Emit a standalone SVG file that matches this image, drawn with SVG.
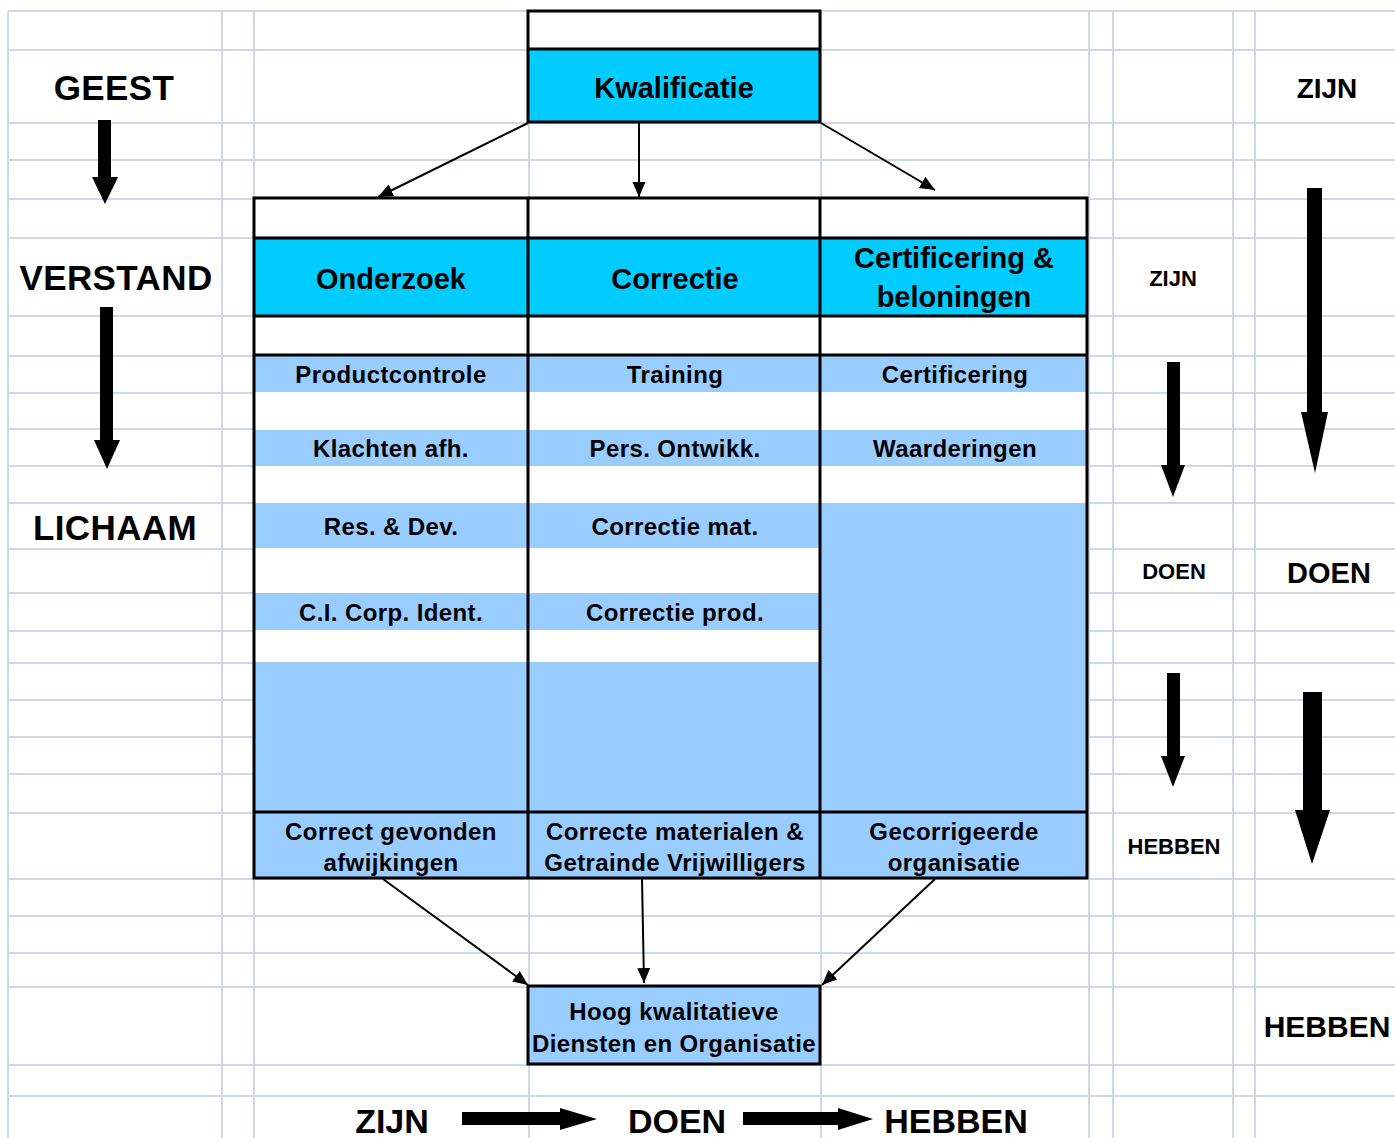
<svg xmlns="http://www.w3.org/2000/svg" width="1395" height="1138" viewBox="0 0 1395 1138">
<style>
.g{stroke:#D0D7E5;stroke-width:2}
.b{stroke:#000;stroke-width:3;fill:none}
.cy{fill:#00CCFF}
.lb{fill:#99CCFF}
.w{fill:#fff}
.t{font-family:"Liberation Sans",Arial,sans-serif;font-weight:bold;fill:#000;text-anchor:middle}
.h{font-size:29px}
.r{font-size:24px;letter-spacing:0.4px}
.big{font-size:35px;letter-spacing:0.4px}
.c{stroke:#000;stroke-width:2;fill:none;marker-end:url(#ah)}
.blk{fill:#000}
</style>
<defs>
<marker id="ah" markerUnits="userSpaceOnUse" markerWidth="16" markerHeight="14" refX="15" refY="6.5" orient="auto">
<path d="M0,0 L15,6.5 L0,13 z" fill="#000"/>
</marker>
</defs>
<rect width="1395" height="1138" fill="#fff"/>
<g id="grid">
<line class="g" x1="8" y1="11" x2="1395" y2="11"/>
<line class="g" x1="8" y1="50" x2="1395" y2="50"/>
<line class="g" x1="8" y1="123" x2="1395" y2="123"/>
<line class="g" x1="8" y1="160" x2="1395" y2="160"/>
<line class="g" x1="8" y1="199" x2="1395" y2="199"/>
<line class="g" x1="8" y1="238" x2="1395" y2="238"/>
<line class="g" x1="8" y1="316" x2="1395" y2="316"/>
<line class="g" x1="8" y1="356" x2="1395" y2="356"/>
<line class="g" x1="8" y1="393" x2="1395" y2="393"/>
<line class="g" x1="8" y1="429" x2="1395" y2="429"/>
<line class="g" x1="8" y1="466" x2="1395" y2="466"/>
<line class="g" x1="8" y1="503" x2="1395" y2="503"/>
<line class="g" x1="8" y1="549" x2="1395" y2="549"/>
<line class="g" x1="8" y1="593" x2="1395" y2="593"/>
<line class="g" x1="8" y1="631" x2="1395" y2="631"/>
<line class="g" x1="8" y1="663" x2="1395" y2="663"/>
<line class="g" x1="8" y1="700" x2="1395" y2="700"/>
<line class="g" x1="8" y1="737" x2="1395" y2="737"/>
<line class="g" x1="8" y1="774" x2="1395" y2="774"/>
<line class="g" x1="8" y1="813" x2="1395" y2="813"/>
<line class="g" x1="8" y1="879" x2="1395" y2="879"/>
<line class="g" x1="8" y1="916" x2="1395" y2="916"/>
<line class="g" x1="8" y1="953" x2="1395" y2="953"/>
<line class="g" x1="8" y1="987" x2="1395" y2="987"/>
<line class="g" x1="8" y1="1065" x2="1395" y2="1065"/>
<line class="g" x1="8" y1="1096" x2="1395" y2="1096"/>
<line class="g" x1="8" y1="11" x2="8" y2="1138"/>
<line class="g" x1="222" y1="11" x2="222" y2="1138"/>
<line class="g" x1="254" y1="11" x2="254" y2="1138"/>
<line class="g" x1="529" y1="11" x2="529" y2="1138"/>
<line class="g" x1="821" y1="11" x2="821" y2="1138"/>
<line class="g" x1="1089" y1="11" x2="1089" y2="1138"/>
<line class="g" x1="1113" y1="11" x2="1113" y2="1138"/>
<line class="g" x1="1233" y1="11" x2="1233" y2="1138"/>
<line class="g" x1="1255" y1="11" x2="1255" y2="1138"/>
</g>
<g id="kwalificatie">
<rect class="w" x="528" y="11" width="292" height="38"/>
<rect class="cy" x="528" y="49" width="292" height="73"/>
<path class="b" d="M528,11 H820 V122 H528 Z M528,49 H820"/>
<text class="t h" x="674" y="98">Kwalificatie</text>
</g>
<g id="table-bg">
<rect class="w" x="254" y="198" width="833" height="680"/>
<rect class="cy" x="254" y="238" width="833" height="78"/>
<rect class="lb" x="254" y="355" width="833" height="37"/>
<rect class="lb" x="254" y="430" width="833" height="36"/>
<rect class="lb" x="254" y="503" width="833" height="45"/>
<rect class="lb" x="254" y="593" width="833" height="37"/>
<rect class="lb" x="820" y="548" width="267" height="114"/>
<rect class="lb" x="254" y="662" width="833" height="216"/>
</g>
<g id="onderzoek">
<text class="t h" x="391" y="289">Onderzoek</text>
<text class="t r" x="391" y="383">Productcontrole</text>
<text class="t r" x="391" y="457">Klachten afh.</text>
<text class="t r" x="391" y="535">Res. &amp; Dev.</text>
<text class="t r" x="391" y="621">C.I. Corp. Ident.</text>
<text class="t r" x="391" y="840">Correct gevonden</text>
<text class="t r" x="391" y="871">afwijkingen</text>
</g>
<g id="correctie">
<text class="t h" x="675" y="289">Correctie</text>
<text class="t r" x="675" y="383">Training</text>
<text class="t r" x="675" y="457">Pers. Ontwikk.</text>
<text class="t r" x="675" y="535">Correctie mat.</text>
<text class="t r" x="675" y="621">Correctie prod.</text>
<text class="t r" x="675" y="840">Correcte materialen &amp;</text>
<text class="t r" x="675" y="871">Getrainde Vrijwilligers</text>
</g>
<g id="certificering">
<text class="t h" x="954" y="268">Certificering &amp;</text>
<text class="t h" x="954" y="307">beloningen</text>
<text class="t r" x="955" y="383">Certificering</text>
<text class="t r" x="955" y="457">Waarderingen</text>
<text class="t r" x="954" y="840">Gecorrigeerde</text>
<text class="t r" x="954" y="871">organisatie</text>
</g>
<g id="table-borders">
<path class="b" d="M254,198 H1087 V878 H254 Z M254,238 H1087 M254,316 H1087 M254,355 H1087 M254,812 H1087 M528,198 V878 M820,198 V878"/>
</g>
<g id="resultaat">
<rect class="lb" x="528" y="986" width="292" height="78"/>
<rect class="b" x="528" y="986" width="292" height="78"/>
<text class="t r" x="674" y="1020">Hoog kwalitatieve</text>
<text class="t r" x="674" y="1052">Diensten en Organisatie</text>
</g>
<g id="connectors">
<line class="c" x1="528" y1="123" x2="378" y2="197"/>
<line class="c" x1="639" y1="123" x2="639" y2="197"/>
<line class="c" x1="821" y1="123" x2="935" y2="190"/>
<line class="c" x1="383" y1="879" x2="528" y2="985"/>
<line class="c" x1="642" y1="879" x2="644" y2="983"/>
<line class="c" x1="935" y1="879" x2="822" y2="985"/>
</g>
<g id="flow-arrows">
<path class="blk" d="M98,120 H111 V177 H118 L105,204 L92,177 H98 Z"/>
<path class="blk" d="M100,307 H113 V440 H120 L107,469 L94,440 H100 Z"/>
<path class="blk" d="M1307,188 H1322 V412 H1328 L1315,473 L1301,412 H1307 Z"/>
<path class="blk" d="M1167,362 H1180 V465 H1185 L1173,497 L1161,465 H1167 Z"/>
<path class="blk" d="M1167,673 H1180 V756 H1185 L1173,787 L1161,756 H1167 Z"/>
<path class="blk" d="M1303,692 H1322 V810 H1330 L1312,864 L1295,810 H1303 Z"/>
<path class="blk" d="M462,1112 H560 V1108 L597,1119 L560,1130 V1125 H462 Z"/>
<path class="blk" d="M743,1112 H838 V1108 L873,1119 L838,1130 V1125 H743 Z"/>
</g>
<g id="labels">
<text class="t big" x="114" y="100">GEEST</text>
<text class="t big" x="116" y="290">VERSTAND</text>
<text class="t big" x="115" y="540">LICHAAM</text>
<text class="t" style="font-size:28px" x="1327" y="98">ZIJN</text>
<text class="t" style="font-size:22px" x="1173" y="286">ZIJN</text>
<text class="t" style="font-size:22px" x="1174" y="579">DOEN</text>
<text class="t" style="font-size:29px" x="1329" y="583">DOEN</text>
<text class="t" style="font-size:22px" x="1174" y="854">HEBBEN</text>
<text class="t" style="font-size:30px" x="1327" y="1037">HEBBEN</text>
<text class="t" style="font-size:34px" x="392" y="1133">ZIJN</text>
<text class="t" style="font-size:34px" x="677" y="1133">DOEN</text>
<text class="t" style="font-size:34px" x="956" y="1133">HEBBEN</text>
</g>
</svg>
